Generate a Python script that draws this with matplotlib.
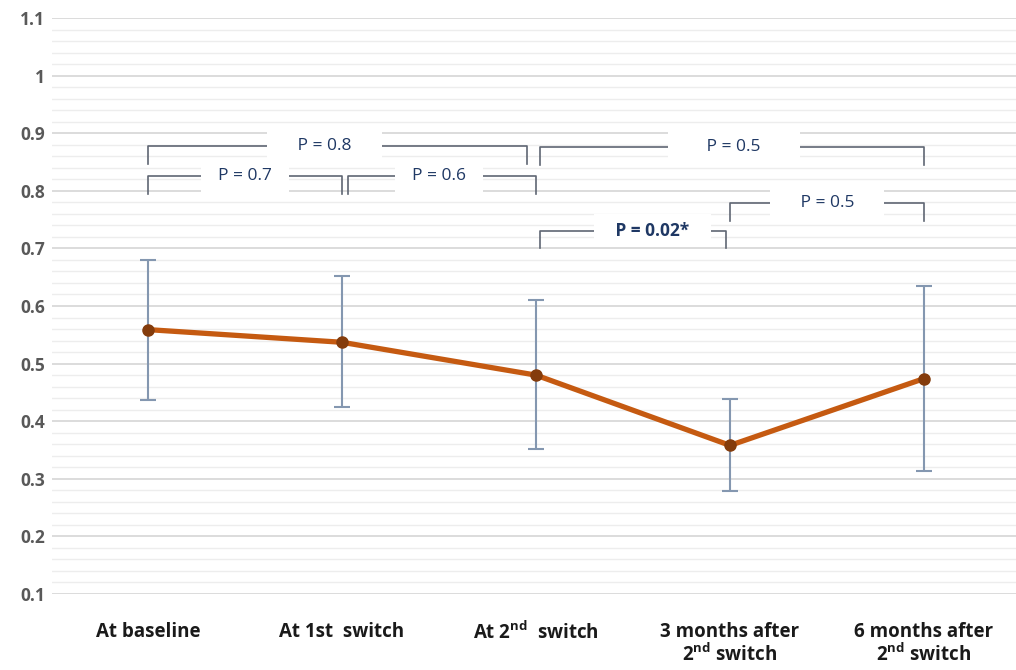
import matplotlib
matplotlib.use('Agg')
import matplotlib.pyplot as plt
from matplotlib.ticker import MultipleLocator

plt.rcParams['font.family'] = ['Open Sans', 'DejaVu Sans']
plt.rcParams['mathtext.fontset'] = 'custom'
plt.rcParams['mathtext.rm'] = 'Open Sans'
plt.rcParams['mathtext.bf'] = 'Open Sans:bold'

categories = ['At baseline', 'At 1st  switch', r'At 2$^{\mathbf{nd}}$  switch',
              '3 months after\n' + r'2$^{\mathbf{nd}}$ switch',
              '6 months after\n' + r'2$^{\mathbf{nd}}$ switch']
means = [0.559, 0.537, 0.480, 0.358, 0.474]
upper = [0.680, 0.652, 0.610, 0.438, 0.634]
lower = [0.436, 0.424, 0.352, 0.279, 0.314]

# comparisons: (from, to, bracket height, label)
p_from = [0.0, 0.0, 1.03, 2.02, 3.0, 2.02]
p_to = [1.955, 1.0, 2.0, 4.0, 4.0, 2.98]
p_height = [0.877, 0.825, 0.825, 0.876, 0.778, 0.731]
p_labels = ['P = 0.8', 'P = 0.7', 'P = 0.6', 'P = 0.5', 'P = 0.5', 'P = 0.02*']
p_text_x = [0.91, 0.5, 1.5, 3.02, 3.5, 2.6]
p_bold = [False, False, False, False, False, True]
p_pad = ['     ', '  ', '  ', '       ', '     ', '   ']

fig = plt.figure(figsize=(10.16, 6.70), dpi=100)
ax = fig.add_axes([52 / 1016, 76 / 670, 964 / 1016, 576 / 670])

x = list(range(len(means)))
err_lo = [m - l for m, l in zip(means, lower)]
err_hi = [u - m for m, u in zip(means, upper)]

ax.errorbar(x, means, yerr=[err_lo, err_hi], fmt='none', ecolor='#8497B0',
            elinewidth=1.5, capsize=6, capthick=1.5, zorder=3)
ax.plot(x, means, color='#C55A11', linewidth=3.8, zorder=4)
ax.plot(x, means, 'o', color='#843C0C', markersize=8, zorder=5)

leg = 0.031
for x0, x1, h, lab, tx, b, pad in zip(p_from, p_to, p_height, p_labels, p_text_x, p_bold, p_pad):
    ax.plot([x0, x0, x1, x1], [h - leg, h, h, h - leg], color='#5F6673',
            linewidth=1.2, zorder=2)
    ax.text(tx, h, pad + lab + pad, ha='center', va='center', fontsize=12.5,
            color='#1F3864', fontweight='bold' if b else 'normal', zorder=6,
            bbox=dict(boxstyle='square,pad=0.45', facecolor='white', edgecolor='none'))

ax.set_xlim(-0.495, 4.474)
ax.set_ylim(0.1, 1.1)
ax.yaxis.set_major_locator(MultipleLocator(0.1))
ax.yaxis.set_minor_locator(MultipleLocator(0.02))
ax.grid(which='major', axis='y', color='#D9D9D9', linewidth=1.3, zorder=0)
ax.grid(which='minor', axis='y', color='#EDEDED', linewidth=1.0, zorder=0)
ax.set_axisbelow(True)

ax.set_xticks(x)
ax.set_xticklabels(categories, fontsize=13.5, fontweight='bold', color='#1a1a1a',
                   linespacing=1.1)
ax.set_yticks([0.1, 0.2, 0.3, 0.4, 0.5, 0.6, 0.7, 0.8, 0.9, 1.0, 1.1])
ax.set_yticklabels(['0.1', '0.2', '0.3', '0.4', '0.5', '0.6', '0.7', '0.8', '0.9', '1', '1.1'],
                   fontsize=12.5, fontweight='bold', color='#595959')
ax.tick_params(axis='x', length=0, pad=20)
ax.tick_params(axis='y', which='both', length=0, pad=5)
for s in ax.spines.values():
    s.set_visible(False)

fig.savefig('out.png', dpi=100, facecolor='white')
